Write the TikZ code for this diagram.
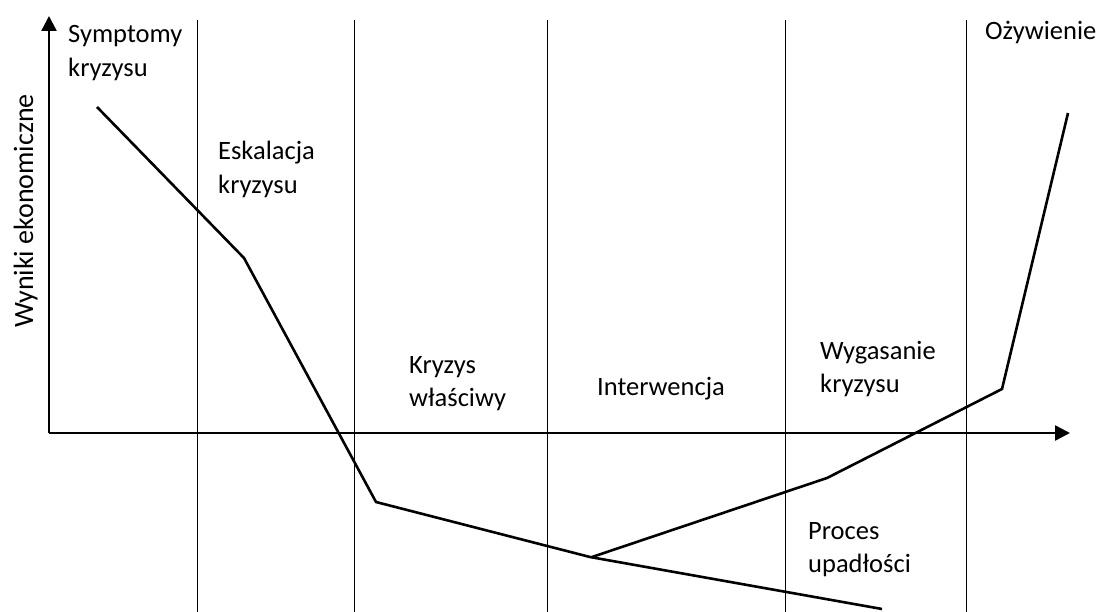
\documentclass[tikz,border=0pt]{standalone}
\usepackage{fontspec}
\setmainfont{Carlito}
\usetikzlibrary{arrows.meta}
\begin{document}
\begin{tikzpicture}[x=1pt,y=-1pt,
  % two-line labels are anchored at the baseline of their last line
  phase/.style={anchor=base west, align=left, inner sep=0pt,
                font=\fontsize{26.5}{33.5}\selectfont},
  axislabel/.style={anchor=base, inner sep=0pt, rotate=90,
                font=\fontsize{28}{34}\selectfont},
  divider/.style={line width=1pt},
  axis/.style={line width=2.4pt, -{Triangle[length=15pt,width=15pt]}},
  trend/.style={line width=2.6pt, line join=miter}]
\useasboundingbox (0,0) rectangle (1097,612);

% phase dividers
\foreach \x in {197,354,547,785,966}
  \draw[divider] (\x,20) -- (\x,612);

% axes
\coordinate (origin) at (49,433);
\coordinate (ytip) at (49,16);
\coordinate (xtip) at (1070,433);
\draw[axis] (origin) -- (ytip);
\draw[axis] (origin) -- (xtip);
\node[axislabel] (ylab) at (33,211) {Wyniki ekonomiczne};

% economic results: decline into bankruptcy
\coordinate (a1) at (97,107);
\coordinate (a2) at (244,258);
\coordinate (a3) at (376,502);
\coordinate (a4) at (590,557);
\coordinate (a5) at (882,609);
\draw[trend] (a1) -- (a2) -- (a3) -- (a4) -- (a5);

% recovery branch after intervention
\coordinate (b1) at (592,557);
\coordinate (b2) at (827,478);
\coordinate (b3) at (1002,389);
\coordinate (b4) at (1068,113);
\draw[trend] (b1) -- (b2) -- (b3) -- (b4);

% phase names
\node[phase] (symptomy) at (68,76.5) {Symptomy\\kryzysu};
\node[phase] (eskalacja) at (218,193.5) {Eskalacja\\kryzysu};
\node[phase] (wlasciwy) at (409,406.5) {Kryzys\\właściwy};
\node[phase] (interwencja) at (597,395) {Interwencja};
\node[phase] (wygasanie) at (820,392.5) {Wygasanie\\kryzysu};
\node[phase] (upadlosc) at (808,572.5) {Proces\\upadłości};
\node[phase] (ozywienie) at (985,40) {Ożywienie};
\end{tikzpicture}
\end{document}
